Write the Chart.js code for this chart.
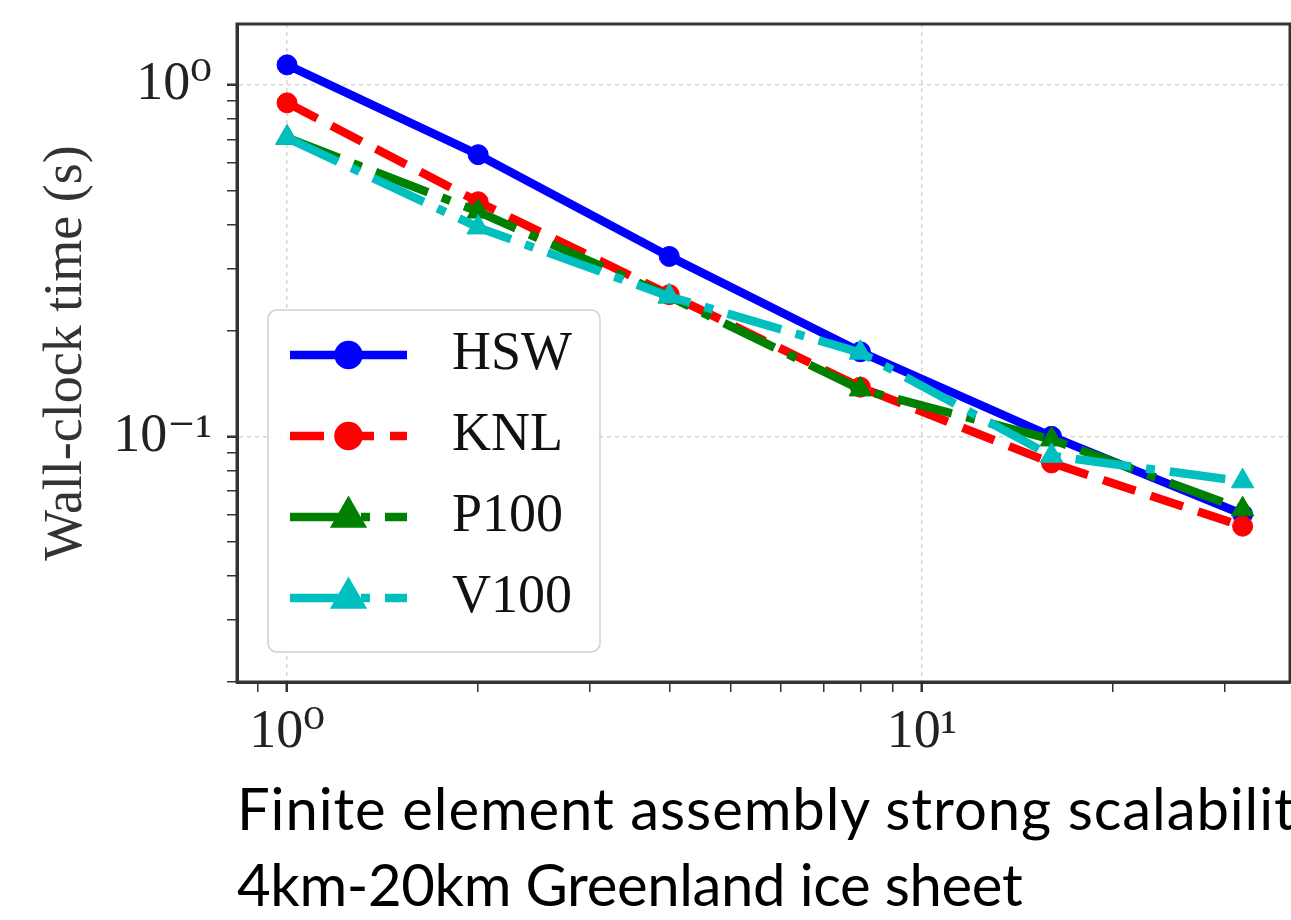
<!DOCTYPE html>
<html lang="en">
<head>
  <meta charset="UTF-8" />
  <title>Finite element assembly strong scalability</title>
  <script src="https://cdn.jsdelivr.net/npm/chart.js"></script>
  <style>
    html, body {
      margin: 0;
      padding: 0;
      background: #fff;
      overflow: hidden;
    }
    #wrap {
      position: relative;
      width: 1291px;
      height: 920px;
      overflow: hidden;
    }
    canvas {
      position: absolute;
      left: 0;
      top: 0;
    }
    .caption {
      position: absolute;
      left: 237px;
      font-family: Lato, "Open Sans", sans-serif;
      font-size: 58px;
      line-height: 1;
      color: #000;
      white-space: nowrap;
    }
  </style>
</head>
<body>
  <div id="wrap">
    <canvas id="scaleChart" width="1291" height="760"></canvas>
    <div class="caption" style="top:779px; letter-spacing:0.9px">Finite element assembly strong scalability</div>
    <div class="caption" style="top:855px; letter-spacing:-0.35px">4km-20km Greenland ice sheet</div>
  </div>

  <script>
    // number of processes / devices
    const procs = [1, 2, 4, 8, 16, 32];

    // wall-clock times (s)
    const hsw  = [1.14, 0.633, 0.325, 0.174, 0.100, 0.060];
    const knl  = [0.889, 0.465, 0.253, 0.138, 0.084, 0.0555];
    const p100 = [0.707, 0.436, 0.250, 0.136, 0.098, 0.062];
    const v100 = [0.707, 0.393, 0.250, 0.173, 0.088, 0.0745];

    const seriesNames = ['HSW', 'KNL', 'P100', 'V100'];

    // axis ticks
    const xMajor = [1, 10];
    const xMajorLabels = ['10⁰', '10¹'];
    const xMinor = [0.9, 2, 3, 4, 5, 6, 7, 8, 9, 20, 30];
    const yMajor = [0.1, 1];
    const yMajorLabels = ['10⁻¹', '10⁰'];
    const yMinor = [0.02, 0.03, 0.04, 0.05, 0.06, 0.07, 0.08, 0.09,
                    0.2, 0.3, 0.4, 0.5, 0.6, 0.7, 0.8, 0.9];

    const serif = '"Liberation Serif", "DejaVu Serif", serif';

    function tickList(major, minor) {
      return major.map(v => ({ value: v, major: true }))
        .concat(minor.map(v => ({ value: v, major: false })))
        .sort((a, b) => a.value - b.value);
    }

    function labelFor(major, labels, v) {
      const i = major.indexOf(v);
      return i >= 0 ? labels[i] : '';
    }

    function pts(ys) {
      return procs.map((p, i) => ({ x: p, y: ys[i] }));
    }

    // no extra room for (empty) edge labels
    function noEdgePadding(s) {
      s.paddingTop = 0;
      s.paddingBottom = 0;
      s.paddingLeft = 0;
      s.paddingRight = 0;
    }

    // top and right spines (Chart.js only draws left/bottom)
    const frame = {
      id: 'frame',
      afterDatasetsDraw(chart) {
        const { ctx, chartArea: a } = chart;
        ctx.save();
        ctx.strokeStyle = '#333';
        ctx.lineWidth = 3;
        ctx.strokeRect(a.left, a.top, a.right - a.left, a.bottom - a.top);
        ctx.restore();
      }
    };

    // matplotlib style legend box in the lower left of the axes
    const mplLegend = {
      id: 'mplLegend',
      afterDatasetsDraw(chart) {
        const { ctx, chartArea: a } = chart;
        const box = { x: a.left + 31, y: a.top + 286, w: 332, h: 342 };
        ctx.save();
        ctx.beginPath();
        ctx.roundRect(box.x, box.y, box.w, box.h, 9);
        ctx.fillStyle = 'rgba(255,255,255,0.85)';
        ctx.fill();
        ctx.lineWidth = 1.5;
        ctx.strokeStyle = '#d0d0d0';
        ctx.stroke();

        chart.data.datasets.forEach((ds, i) => {
          const y = box.y + 45 + i * 81;
          const x0 = box.x + 22, x1 = box.x + 139;
          ctx.setLineDash(ds.borderDash || []);
          ctx.lineCap = 'butt';
          ctx.strokeStyle = ds.borderColor;
          ctx.lineWidth = ds.borderWidth;
          ctx.beginPath();
          ctx.moveTo(x0, y);
          ctx.lineTo(x1, y);
          ctx.stroke();
          ctx.setLineDash([]);
          ctx.fillStyle = ds.borderColor;
          ctx.strokeStyle = ds.borderColor;
          Chart.helpers.drawPoint(ctx, {
            pointStyle: ds.pointStyle,
            radius: ds.pointRadius,
            borderWidth: 1,
            rotation: 0
          }, (x0 + x1) / 2, y);

          ctx.fillStyle = '#111';
          ctx.font = '54px ' + serif;
          ctx.textBaseline = 'middle';
          ctx.textAlign = 'left';
          ctx.fillText(ds.label, box.x + 184, y);
        });
        ctx.restore();
      }
    };

    const colors = ['#0000ff', '#ff0000', '#008000', '#00bfbf'];
    const dashes = [[], [34, 16], [56, 15, 9, 15], [56, 15, 9, 15]];
    const markers = ['circle', 'circle', 'triangle', 'triangle'];
    const values = [hsw, knl, p100, v100];

    const datasets = seriesNames.map((name, i) => ({
      label: name,
      data: pts(values[i]),
      borderColor: colors[i],
      backgroundColor: colors[i],
      borderWidth: 8.5,
      borderDash: dashes[i],
      borderCapStyle: 'butt',
      borderJoinStyle: 'round',
      pointStyle: markers[i],
      pointRadius: markers[i] === 'circle' ? 10 : 13,
      pointBorderWidth: 1,
      pointBackgroundColor: colors[i],
      pointBorderColor: colors[i],
      tension: 0,
      order: seriesNames.length - i
    }));

    const gridOpts = {
      color: c => (c.tick && c.tick.major) ? '#d4d4d4' : 'rgba(0,0,0,0)',
      lineWidth: 1.5,
      tickColor: '#333',
      tickLength: 10,
      tickWidth: c => (c.tick && c.tick.major) ? 2.5 : 1.5
    };

    const ctx = document.getElementById('scaleChart').getContext('2d');

    new Chart(ctx, {
      type: 'line',
      data: { datasets: datasets },
      options: {
        responsive: false,
        animation: false,
        layout: {
          autoPadding: false,
          padding: { left: 0, top: 24, right: 1, bottom: 0 }
        },
        plugins: {
          legend: { display: false },
          tooltip: { enabled: false }
        },
        scales: {
          x: {
            type: 'logarithmic',
            min: 0.834,
            max: 38.0,
            bounds: 'data',
            afterBuildTicks: s => { s.ticks = tickList(xMajor, xMinor); },
            afterFit: s => { s.height = 78; noEdgePadding(s); },
            ticks: {
              autoSkip: false,
              maxRotation: 0,
              padding: 8,
              color: '#222',
              font: { family: serif, size: 54 },
              callback: v => labelFor(xMajor, xMajorLabels, v)
            },
            grid: gridOpts,
            border: { color: '#333', width: 3, dash: [4, 4] }
          },
          y: {
            type: 'logarithmic',
            min: 0.02,
            max: 1.49,
            bounds: 'data',
            afterBuildTicks: s => { s.ticks = tickList(yMajor, yMinor); },
            afterFit: s => { s.width = 237; noEdgePadding(s); },
            title: {
              display: true,
              text: 'Wall-clock time (s)',
              color: '#333',
              font: { family: serif, size: 54 },
              padding: { top: 34, bottom: 0 }
            },
            ticks: {
              autoSkip: false,
              padding: 15,
              color: '#222',
              font: { family: serif, size: 54 },
              callback: v => labelFor(yMajor, yMajorLabels, v)
            },
            grid: gridOpts,
            border: { color: '#333', width: 3, dash: [4, 4] }
          }
        }
      },
      plugins: [frame, mplLegend]
    });
  </script>
</body>
</html>
